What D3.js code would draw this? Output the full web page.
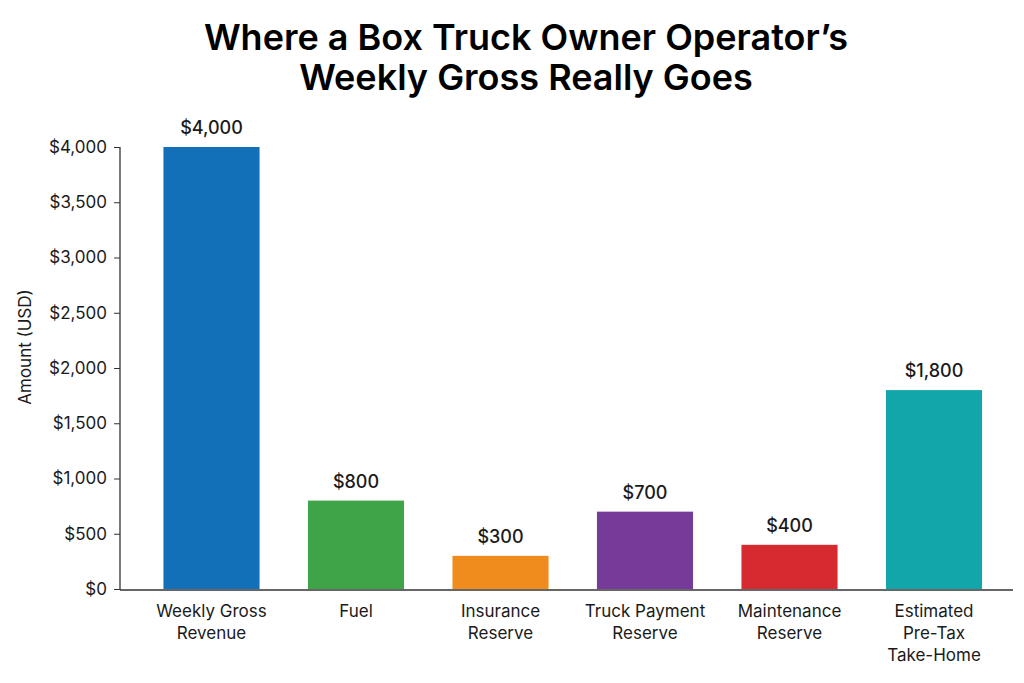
<!DOCTYPE html>
<html>
<head>
<meta charset="utf-8">
<script src="https://cdn.jsdelivr.net/npm/d3@7"></script>
<style>
  body { margin: 0; background: #fff; }
  text { font-family: "Inter", "Liberation Sans", sans-serif; fill: #1a1a1a; }
</style>
</head>
<body>
<div id="chart"></div>
<script>
const categories = [
  ["Weekly Gross", "Revenue"],
  ["Fuel"],
  ["Insurance", "Reserve"],
  ["Truck Payment", "Reserve"],
  ["Maintenance", "Reserve"],
  ["Estimated", "Pre-Tax", "Take-Home"]
];
const amounts = [4000, 800, 300, 700, 400, 1800];
const barColors = ["#1170b8", "#3fa447", "#f08c1e", "#763a98", "#d52a2f", "#12a6ab"];
const yTicks = [0, 500, 1000, 1500, 2000, 2500, 3000, 3500, 4000];
const titleLines = ["Where a Box Truck Owner Operator\u2019s", "Weekly Gross Really Goes"];

const W = 1024, H = 683;
const svg = d3.select("#chart").append("svg")
  .attr("width", W)
  .attr("height", H);

const keys = categories.map((c, i) => i);

const x = d3.scaleBand()
  .domain(keys)
  .range([139.25, 1006.25])
  .paddingInner(0.335)
  .paddingOuter(0.1675);

const y = d3.scaleLinear()
  .domain([0, 4000])
  .range([589, 147]);

// title
svg.append("g").selectAll("text")
  .data(titleLines)
  .join("text")
  .attr("x", 526)
  .attr("y", (d, i) => 50 + i * 40)
  .attr("text-anchor", "middle")
  .style("font-size", "36px")
  .style("font-weight", 600)
  .style("fill", "#000")
  .text(d => d);

// y axis
const yAxis = svg.append("g")
  .attr("transform", "translate(120,0)")
  .call(d3.axisLeft(y).tickValues(yTicks).tickSize(6).tickPadding(7)
    .tickFormat(d => "$" + d3.format(",")(d)));
yAxis.select(".domain").attr("stroke", "#333").attr("stroke-width", 1.3)
  .attr("d", "M0,147V590");
yAxis.selectAll(".tick line").attr("stroke", "#333");
yAxis.selectAll(".tick text")
  .style("font-size", "17px")
  .style("font-family", "Inter, 'Liberation Sans', sans-serif")
  .attr("fill", "#1a1a1a");

svg.append("text")
  .attr("transform", "translate(31,347) rotate(-90)")
  .attr("text-anchor", "middle")
  .style("font-size", "17px")
  .text("Amount (USD)");

// bars
svg.append("g").selectAll("rect")
  .data(amounts)
  .join("rect")
  .attr("x", (d, i) => x(i))
  .attr("y", d => y(d))
  .attr("width", x.bandwidth())
  .attr("height", d => y(0) - y(d))
  .attr("fill", (d, i) => barColors[i]);

// value labels
svg.append("g").selectAll("text")
  .data(amounts)
  .join("text")
  .attr("x", (d, i) => x(i) + x.bandwidth() / 2)
  .attr("y", d => y(d) - 13)
  .attr("text-anchor", "middle")
  .style("font-size", "18px")
  .style("font-weight", 500)
  .text(d => "$" + d3.format(",")(d));

// x axis line
svg.append("line")
  .attr("x1", 120).attr("x2", 1013)
  .attr("y1", 590).attr("y2", 590)
  .attr("stroke", "#333")
  .attr("stroke-width", 1.3);

// category labels
const xl = svg.append("g").selectAll("text")
  .data(categories)
  .join("text")
  .attr("text-anchor", "middle")
  .style("font-size", "17px");
xl.selectAll("tspan")
  .data(d => d)
  .join("tspan")
  .attr("x", function() {
    const i = categories.indexOf(d3.select(this.parentNode).datum());
    return x(i) + x.bandwidth() / 2;
  })
  .attr("y", (d, j) => 617 + j * 22)
  .text(d => d);
</script>
</body>
</html>
